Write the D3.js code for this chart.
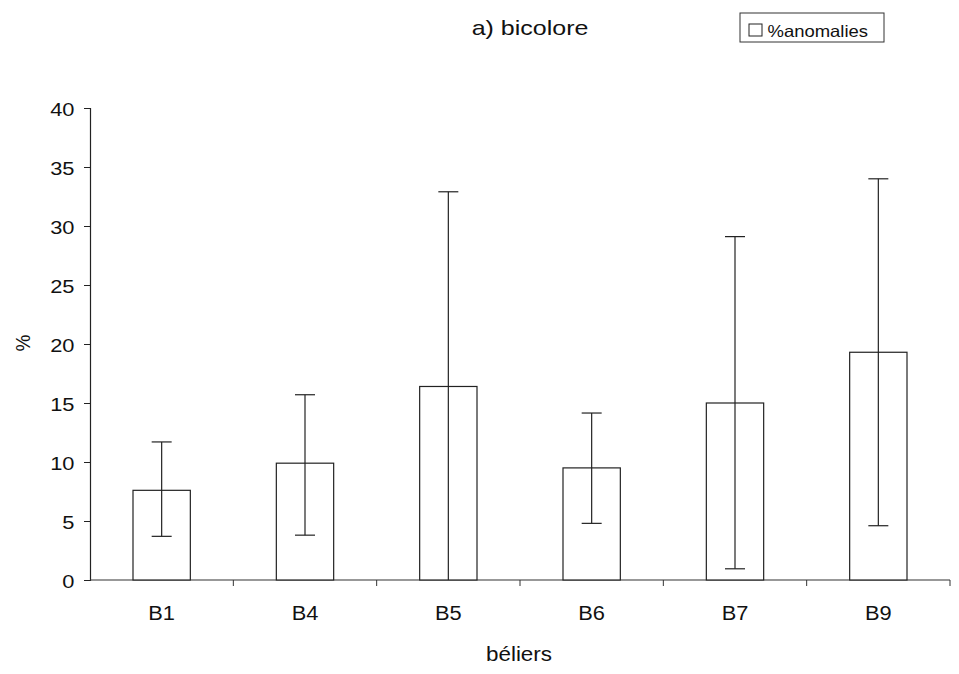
<!DOCTYPE html>
<html>
<head>
<meta charset="utf-8">
<script src="https://cdn.jsdelivr.net/npm/d3@7"></script>
<style>
  body { margin: 0; background: #fff; }
  text { font-family: "Liberation Sans", Arial, sans-serif; fill: #111; }
</style>
</head>
<body>
<div id="chart"></div>
<script>
// donnees
var beliers = ["B1", "B4", "B5", "B6", "B7", "B9"];
var anomalies = [7.6, 9.9, 16.4, 9.5, 15.0, 19.3];
var errBas = [3.7, 3.8, 0, 4.8, 0.95, 4.6];
var errHaut = [11.7, 15.7, 32.9, 14.15, 29.1, 34.0];
var yTicks = [0, 5, 10, 15, 20, 25, 30, 35, 40];

var W = 959, H = 674;
var margin = { top: 108, right: 9, bottom: 94, left: 90 };
var iw = W - margin.left - margin.right,
    ih = H - margin.top - margin.bottom;
var sx = 1.15; // le texte de l'original est un peu etire en largeur

var svg = d3.select("#chart").append("svg")
    .attr("width", W)
    .attr("height", H);

var g = svg.append("g")
    .attr("transform", "translate(" + margin.left + "," + margin.top + ")");

var x = d3.scaleBand()
    .domain(beliers)
    .range([0, iw])
    .paddingInner(0.6)
    .paddingOuter(0.3);

var y = d3.scaleLinear().domain([0, 40]).range([ih, 0]);

// texte etire autour du point (cx, cy)
function etire(sel, cx, cy, k) {
  sel.attr("transform", "translate(" + cx + "," + cy + ") scale(" + k + ",1)")
     .attr("x", 0).attr("y", 0);
}

// axe y
var yAxis = g.append("g")
    .call(d3.axisLeft(y).tickValues(yTicks).tickSize(6).tickPadding(10));
yAxis.select(".domain").attr("stroke", "#222").attr("stroke-width", 1.2);
yAxis.selectAll(".tick line").attr("stroke", "#222");
yAxis.selectAll(".tick text")
    .style("font-size", "19px").attr("fill", "#111")
    .attr("dy", null)
    .each(function() { etire(d3.select(this), -15.5, 7, sx); });

// axe x : graduations entre categories
var step = x.step();
var bornes = d3.range(beliers.length + 1).map(function(i) { return i * step; });
g.append("line")
    .attr("x1", 0).attr("x2", iw)
    .attr("y1", ih).attr("y2", ih)
    .attr("stroke", "#333").attr("stroke-width", 1.2);
g.selectAll(".xtick").data(bornes.slice(1)).enter().append("line")
    .attr("x1", function(d) { return d; }).attr("x2", function(d) { return d; })
    .attr("y1", ih).attr("y2", ih + 6)
    .attr("stroke", "#333");
g.selectAll(".xlab").data(beliers).enter().append("text")
    .attr("text-anchor", "middle")
    .style("font-size", "19.5px")
    .text(function(d) { return d; })
    .each(function(d) { etire(d3.select(this), x(d) + x.bandwidth() / 2, ih + 40, 1.12); });

// barres
g.selectAll(".bar").data(beliers).enter().append("rect")
    .attr("x", function(d) { return x(d); })
    .attr("y", function(d, i) { return y(anomalies[i]); })
    .attr("width", x.bandwidth())
    .attr("height", function(d, i) { return ih - y(anomalies[i]); })
    .attr("fill", "#fff")
    .attr("stroke", "#222")
    .attr("stroke-width", 1.2);

// barres d'erreur
var cap = 10;
var eb = g.selectAll(".err").data(beliers).enter().append("g")
    .attr("transform", function(d) { return "translate(" + (x(d) + x.bandwidth() / 2) + ",0)"; });
eb.append("line")
    .attr("y1", function(d, i) { return y(errBas[i]); })
    .attr("y2", function(d, i) { return y(errHaut[i]); })
    .attr("stroke", "#222").attr("stroke-width", 1.2);
eb.append("line")
    .attr("x1", -cap).attr("x2", cap)
    .attr("y1", function(d, i) { return y(errHaut[i]); })
    .attr("y2", function(d, i) { return y(errHaut[i]); })
    .attr("stroke", "#222").attr("stroke-width", 1.2);
eb.filter(function(d, i) { return errBas[i] > 0; }).append("line")
    .attr("x1", -cap).attr("x2", cap)
    .attr("y1", function(d) { return y(errBas[beliers.indexOf(d)]); })
    .attr("y2", function(d) { return y(errBas[beliers.indexOf(d)]); })
    .attr("stroke", "#222").attr("stroke-width", 1.2);

// titres
svg.append("text")
    .attr("text-anchor", "middle")
    .style("font-size", "20.5px")
    .text("a) bicolore")
    .call(etire, 530, 35, 1.22);

svg.append("text")
    .attr("text-anchor", "middle")
    .style("font-size", "19.5px")
    .text("béliers")
    .call(etire, 519, 661, 1.15);

svg.append("text")
    .attr("transform", "translate(30,343) rotate(-90) scale(1,1.1)")
    .attr("text-anchor", "middle")
    .style("font-size", "19px")
    .text("%");

// legende
var leg = svg.append("g").attr("transform", "translate(740,13)");
leg.append("rect")
    .attr("width", 144).attr("height", 29)
    .attr("fill", "#fff").attr("stroke", "#333");
leg.append("rect")
    .attr("x", 9).attr("y", 11).attr("width", 13).attr("height", 12)
    .attr("fill", "#fff").attr("stroke", "#222");
leg.append("text")
    .attr("text-anchor", "start")
    .style("font-size", "16.5px")
    .text("%anomalies")
    .call(etire, 27.5, 23.5, 1.12);
</script>
</body>
</html>
